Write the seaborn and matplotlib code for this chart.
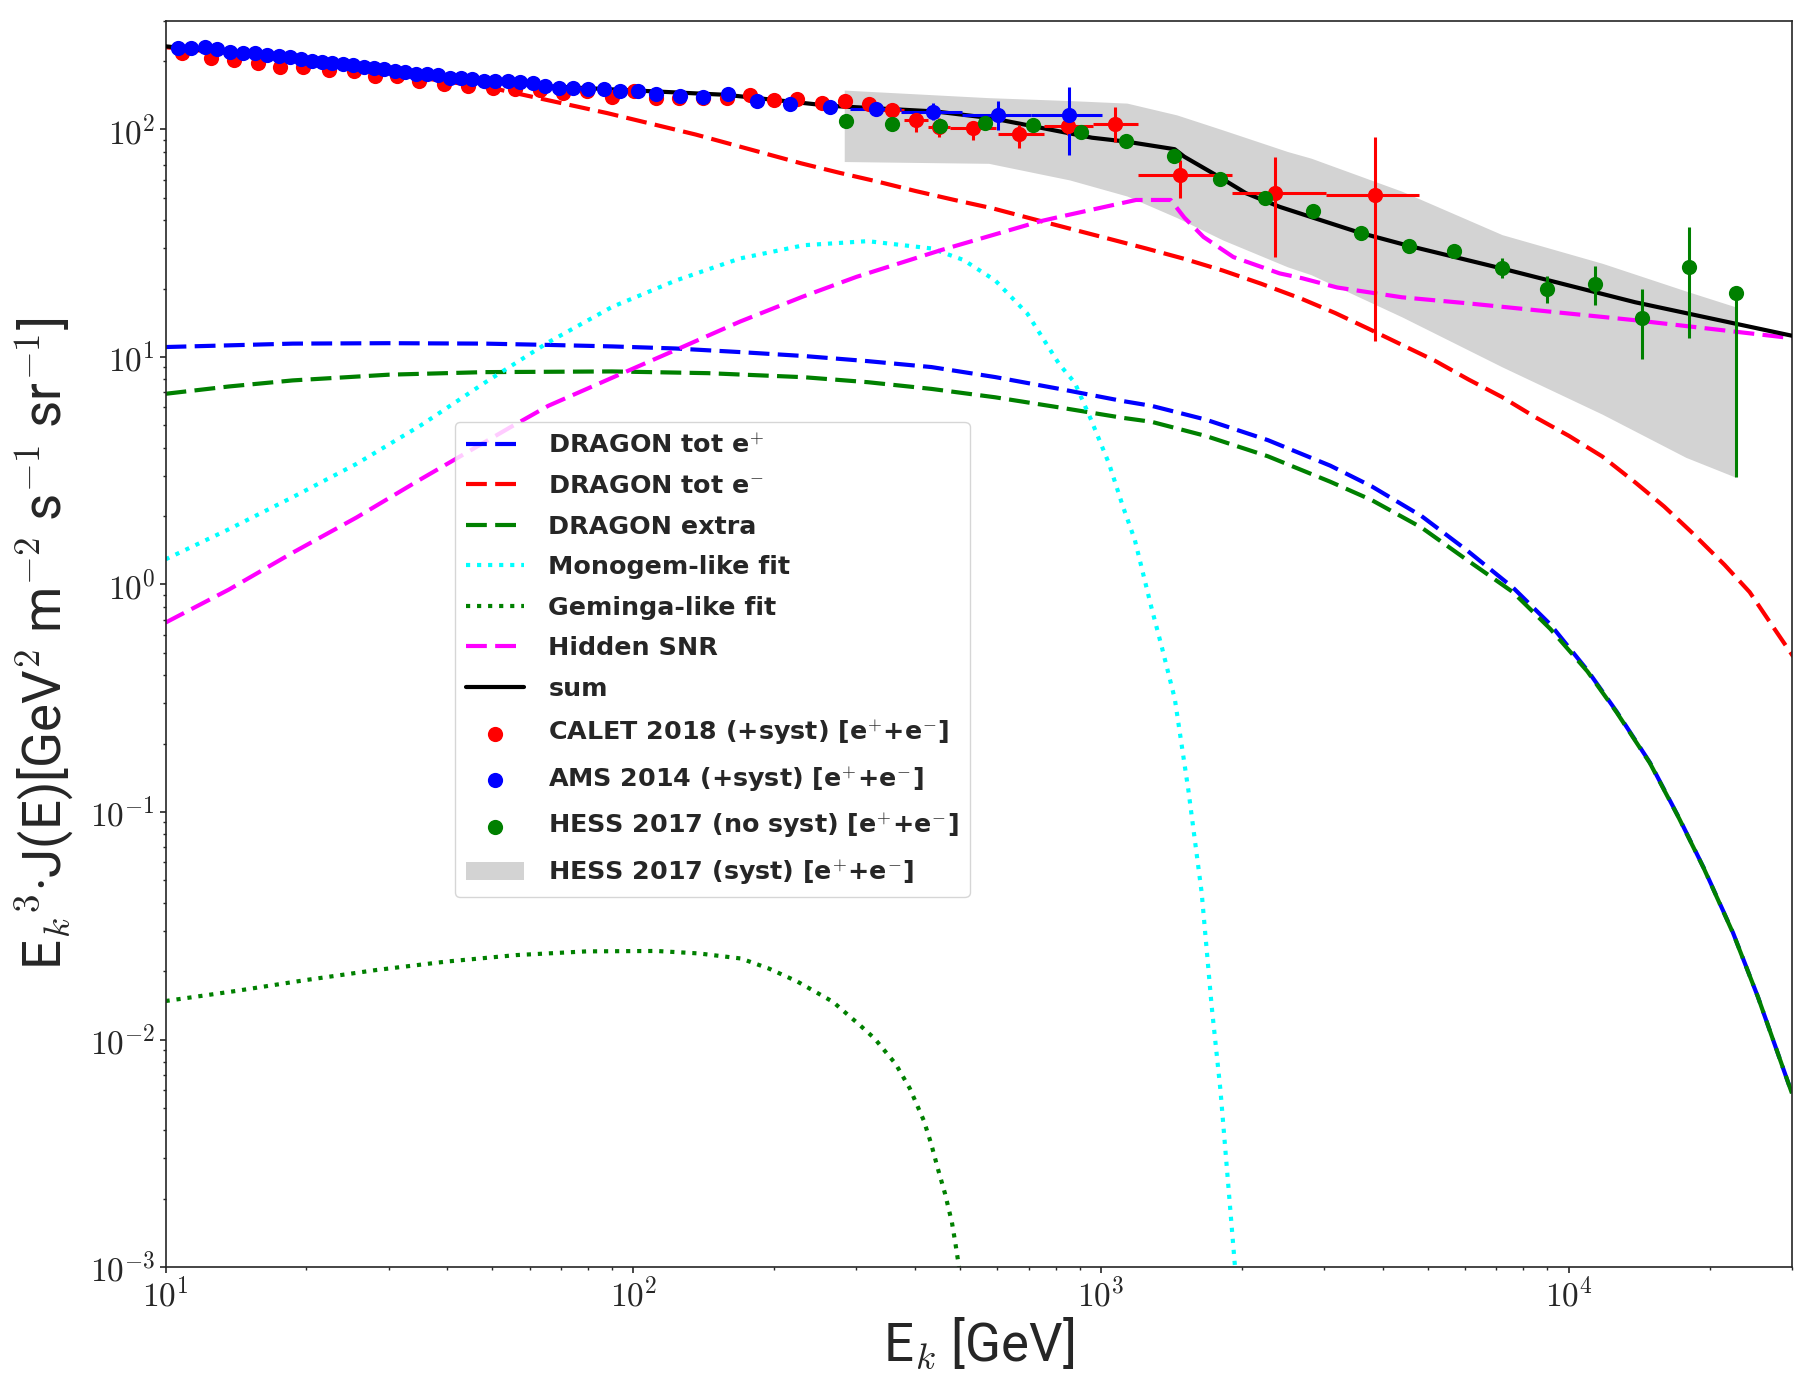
import numpy as np
import matplotlib
matplotlib.use('Agg')
import matplotlib.pyplot as plt
from matplotlib.ticker import LogLocator, FuncFormatter, NullFormatter
import seaborn as sns

sns.set_style('ticks')
plt.rcParams['font.family'] = ['DejaVu Sans']
plt.rcParams['mathtext.fontset'] = 'cm'
plt.rcParams['axes.linewidth'] = 1.2

# --- model curves ---
E_pos = [10, 13.66, 18.7, 30, 48.1, 65.8, 90.1, 123, 169, 231.5, 317, 434, 594, 815, 1114, 1282, 1673,
         2274, 3090, 3790, 4842, 6065, 7595, 9130, 10960, 12660, 14910, 17200, 19450, 22440, 25370, 30000]
dragon_pos = [11.06, 11.25, 11.45, 11.5, 11.45, 11.3, 11.13, 10.9, 10.51, 10.1, 9.59, 9.03, 8.16, 7.24, 6.4,
              6.1, 5.31, 4.31, 3.33, 2.70, 2.0, 1.41, 0.97, 0.668, 0.42, 0.276, 0.165, 0.0944, 0.0566,
              0.0295, 0.0154, 0.0058]

E_ele = [10, 15, 20, 30, 50, 88, 136, 228.5, 276, 333, 402, 486, 587, 709, 856, 1033, 1248, 1507, 1820,
         2198, 2687, 3168, 3734, 4400, 5187, 6113, 7205, 8490, 10010, 11800, 13900, 16000, 18290, 21530,
         24360, 27540, 30200]
dragon_ele = [230, 212, 198, 177, 152, 118, 95, 71, 64.5, 59, 53.6, 49, 45, 40.6, 36.7, 33.2, 30, 27, 24,
              21, 18, 15.6, 13.3, 11.3, 9.6, 7.95, 6.66, 5.43, 4.5, 3.65, 2.8, 2.2, 1.70, 1.22,
              0.926, 0.637, 0.482]

E_extra = [10, 13.66, 18.7, 30, 48.1, 90.1, 144.5, 231.5, 317, 434, 594, 815, 1114, 1282, 1673, 2274,
           3090, 3790, 4842, 6065, 7595, 9130, 10960, 12660, 14910, 17200, 19450, 22440, 25370, 30000]
dragon_extra = [6.89, 7.42, 7.89, 8.36, 8.58, 8.64, 8.49, 8.15, 7.75, 7.24, 6.65, 6.0, 5.4, 5.19, 4.5, 3.66,
                2.83, 2.35, 1.78, 1.28, 0.926, 0.638, 0.415, 0.274, 0.164, 0.0940, 0.0564, 0.0294,
                0.0154, 0.0058]

E_mono = [10, 13.66, 18.7, 25.6, 35.1, 48.1, 65.8, 90.1, 123.4, 169, 231.6, 317, 434, 508, 594, 696, 814,
          879, 952, 1040, 1114, 1181, 1282, 1350, 1438, 1537, 1641, 1724, 1800, 1934]
monogem = [1.29, 1.75, 2.42, 3.39, 5.0, 7.7, 11.6, 16.6, 21.7, 27.1, 31.0, 32.3, 30.0, 26.7, 21.7, 15.5,
           9.3, 7.7, 5.3, 3.4, 2.2, 1.57, 0.79, 0.527, 0.314, 0.125, 0.0443, 0.014, 0.006, 0.001]

E_gem = [10, 14.1, 19.9, 28.2, 39.8, 56.2, 79.5, 112, 138, 170, 195, 224, 267, 306, 328, 364, 390, 418,
         433, 448, 464, 480, 488, 497]
geminga = [0.01476, 0.01633, 0.01824, 0.0202, 0.022, 0.0235, 0.0244, 0.0245, 0.0239, 0.0227, 0.0205,
           0.0180, 0.01466, 0.0115, 0.0101, 0.0078, 0.0061, 0.0044, 0.0035, 0.0027, 0.0021, 0.00157,
           0.00128, 0.001]

E_snr = [10, 13.66, 18.7, 25.6, 35.1, 54.5, 65.8, 96, 125.3, 169, 230, 300, 455, 741, 815, 1188, 1409,
         1507, 1656, 1918, 2410, 2690, 3200, 4400, 6110, 13900, 30000]
hidden_snr = [0.68, 0.95, 1.38, 1.97, 2.9, 4.9, 6.1, 8.58, 10.9, 14.3, 18.4, 22.5, 29.5, 39.5, 41.3, 49,
              49, 41, 33.7, 27.5, 23.3, 22.2, 20.2, 18.3, 17.2, 14.5, 12.1]

E_sum = [10, 25, 65, 158, 264, 443, 585, 957, 1135, 1437, 1507, 1786, 2040, 2410, 2836, 3570, 4550, 7190,
         13870, 30000]
total = [232, 193, 155, 142, 127, 120, 112, 92, 88.4, 81.9, 75.9, 62, 52.5, 45.7, 41, 35.2, 30.8, 24.5,
         17.4, 12.4]

# --- data points ---
calet_E = [10.87, 12.5, 14.0, 15.8, 17.6, 19.7, 22.4, 25.3, 28.0, 31.3, 34.9, 39.4, 44.4, 50.2, 56.0,
           63.2, 70.6, 79.7, 89.9, 100.3, 112, 125, 141, 159, 178, 200, 224, 253, 284, 319,
           357, 402, 450, 532, 669, 848, 1073, 1472, 2357, 3855]
calet_F = [216.6, 206, 202.6, 196, 189, 187.5, 183, 180, 172, 171, 162.6, 158.8, 156, 152, 151,
           149.4, 144.5, 146.9, 139.6, 146.9, 137.4, 137.4, 137.4, 137.4, 142, 135, 136, 130.6, 132.8, 129,
           121.8, 110.2, 103, 101.3, 95.7, 103.7, 105.5, 63.1, 52.7, 51.5]
# bin edges and flux range for the last ten CALET points
calet_Elo = [339, 380, 426, 476, 603, 757, 959, 1202, 1905, 3020]
calet_Ehi = [380, 426, 476, 597, 757, 959, 1202, 1905, 3020, 4790]
calet_Flo = [114, 97.8, 93, 90, 82.8, 94.6, 88.4, 49.8, 27.5, 11.7]
calet_Fhi = [128, 118, 112, 108.3, 104.8, 112.5, 126, 73.5, 76, 93]

ams_E = [10.63, 11.35, 12.13, 12.9, 13.75, 14.62, 15.51, 16.5, 17.44, 18.44, 19.47, 20.57, 21.6, 22.71, 23.99,
         25.18, 26.5, 27.87, 29.38, 30.92, 32.51, 34.29, 36.3, 38.28, 40.53, 42.72, 45.24, 48.01, 50.73, 53.95,
         57.26, 61.16, 64.9, 69.5, 74.5, 80.2, 86.6, 93.9, 102.6, 112, 125.6, 141, 159.4, 183.9, 216.8,
         264, 330, 437, 603, 855]
ams_F = [228, 228, 231, 226, 220, 217, 217, 213, 210, 208, 205, 200, 197, 196, 194,
         193, 189, 186, 184, 180, 179, 175, 175, 174, 169, 168, 167, 164, 163, 163,
         161, 160, 155, 152, 152, 151, 151, 147, 147, 143.5, 141, 139, 143.5, 134, 129.7,
         125.4, 122.8, 119, 116, 116]
# bin edges and flux range for the last four AMS points
ams_Elo = [291, 373, 505, 708]
ams_Ehi = [373, 505, 708, 1005]
ams_Flo = [118, 110, 99.6, 77]
ams_Fhi = [128, 131, 133, 154.5]

hess_E = [285.5, 357, 452, 565, 714, 906, 1131, 1432, 1793, 2240, 2836, 3590, 4548, 5675, 7204,
          8995, 11370, 14360, 18030, 22750]
hess_F = [109, 105.5, 104, 106.6, 104.8, 97.9, 89.1, 76.5, 60.5, 49.8, 44, 35.2, 30.8, 29.2, 24.7,
          19.8, 21, 14.9, 24.9, 19.1]
hess_Flo = [106, 103, 101.5, 104, 102, 95.5, 87, 74.5, 59, 48.5, 42.8, 34.2, 29.8, 28.2, 22.3,
            17.2, 17.0, 9.8, 12.1, 2.96]
hess_Fhi = [112, 108, 106.5, 109, 107.5, 100.5, 91.3, 78.5, 62, 51.2, 45.3, 36.3, 31.8, 30.3, 27.1,
            22.6, 25.1, 20, 37.2, 20]

band_E = [282.5, 575, 857, 1136, 1452, 1820, 2505, 2812, 4400, 7200, 11800, 17800, 22750]
band_hi = [149, 138, 134, 130.6, 115.9, 99.6, 80, 74.8, 53.5, 34.5, 25.8, 19.5, 16.6]
band_lo = [72.3, 71, 60, 51, 41, 32.7, 24.9, 23, 15, 9.05, 5.6, 3.62, 2.96]

labels = [
    'DRAGON tot e$^{+}$',
    'DRAGON tot e$^{-}$',
    'DRAGON extra',
    'Monogem-like fit',
    'Geminga-like fit',
    'Hidden SNR',
    'sum',
    'CALET 2018 (+syst) [e$^{+}$+e$^{-}$]',
    'AMS 2014 (+syst) [e$^{+}$+e$^{-}$]',
    'HESS 2017 (no syst) [e$^{+}$+e$^{-}$]',
    'HESS 2017 (syst) [e$^{+}$+e$^{-}$]',
]

fig = plt.figure(figsize=(18.15, 13.96), dpi=100)
ax = fig.add_axes([0.0912, 0.0924, 0.8961, 0.8926])
ax.set_xscale('log')
ax.set_yscale('log')

dash = (0, (5, 2))
ax.fill_between(band_E, band_lo, band_hi, color='lightgray', linewidth=0, label=labels[10], zorder=1)

curves = [
    (E_pos, dragon_pos, 'blue', dash, labels[0]),
    (E_ele, dragon_ele, 'red', dash, labels[1]),
    (E_extra, dragon_extra, 'green', dash, labels[2]),
    (E_mono, monogem, 'cyan', ':', labels[3]),
    (E_gem, geminga, 'green', ':', labels[4]),
    (E_snr, hidden_snr, 'magenta', dash, labels[5]),
]
for xs, ys, c, ls, lab in curves:
    sns.lineplot(x=xs, y=ys, color=c, linestyle=ls, linewidth=3, label=lab,
                 sort=False, errorbar=None, ax=ax, zorder=2)
sns.lineplot(x=E_sum, y=total, color='black', linewidth=3, label=labels[6],
             sort=False, errorbar=None, ax=ax, zorder=3)

# error bars
cE, cF = np.array(calet_E[-10:]), np.array(calet_F[-10:])
ax.errorbar(cE, cF, xerr=[cE - calet_Elo, np.array(calet_Ehi) - cE],
            yerr=[cF - calet_Flo, np.array(calet_Fhi) - cF],
            fmt='none', ecolor='red', elinewidth=2.2, zorder=4)
aE, aF = np.array(ams_E[-4:]), np.array(ams_F[-4:])
ax.errorbar(aE, aF, xerr=[aE - ams_Elo, np.array(ams_Ehi) - aE],
            yerr=[aF - ams_Flo, np.array(ams_Fhi) - aF],
            fmt='none', ecolor='blue', elinewidth=2.2, zorder=4)
hF = np.array(hess_F)
ax.errorbar(hess_E, hF, yerr=[hF - hess_Flo, np.array(hess_Fhi) - hF],
            fmt='none', ecolor='green', elinewidth=2.2, zorder=4)

sns.scatterplot(x=calet_E, y=calet_F, color='red', s=120, linewidth=0, label=labels[7], ax=ax, zorder=5)
sns.scatterplot(x=ams_E, y=ams_F, color='blue', s=120, linewidth=0, label=labels[8], ax=ax, zorder=6)
sns.scatterplot(x=hess_E, y=hess_F, color='green', s=120, linewidth=0, label=labels[9], ax=ax, zorder=7)

ax.set_xlim(10, 3e4)
ax.set_ylim(1e-3, 3e2)

def pow10(v, pos):
    return r'$\mathrm{10^{%d}}$' % int(round(np.log10(v)))

for axis in (ax.xaxis, ax.yaxis):
    axis.set_major_locator(LogLocator(base=10, numticks=20))
    axis.set_minor_locator(LogLocator(base=10, subs=np.arange(2, 10), numticks=20))
    axis.set_major_formatter(FuncFormatter(pow10))
    axis.set_minor_formatter(NullFormatter())
ax.tick_params(which='major', length=4, width=1.2, labelsize=24, direction='out')
ax.tick_params(which='minor', length=2.4, width=1.0, direction='out')

ax.set_xlabel(r'E$_k$ [GeV]', fontsize=38, family='Roboto', labelpad=2)
ax.set_ylabel(r'E$_k$$^{\mathrm{3}}$·J(E)[GeV$^{\mathrm{2}}$ m$^{\mathrm{-2}}$ s$^{\mathrm{-1}}$ sr$^{\mathrm{-1}}$]',
              fontsize=38, family='Roboto', labelpad=10)

handles, labs = ax.get_legend_handles_labels()
hmap = dict(zip(labs, handles))
ax.legend([hmap[l] for l in labels], labels, loc='upper left', bbox_to_anchor=(0.178, 0.678),
          borderaxespad=0, prop={'family': 'DejaVu Sans', 'weight': 'bold', 'size': 18.3},
          handlelength=2.3, handletextpad=0.95, labelspacing=0.65, borderpad=0.42,
          framealpha=0.8, scatterpoints=1)

fig.savefig('out.png', dpi=100)
